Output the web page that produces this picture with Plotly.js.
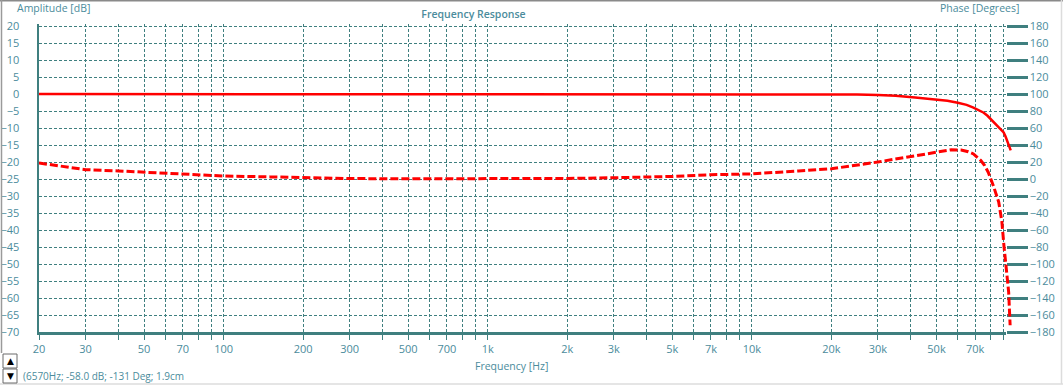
<!DOCTYPE html>
<html>
<head>
<meta charset="utf-8">
<script src="https://cdn.plot.ly/plotly-3.0.1.min.js"></script>
<style>
html,body{margin:0;padding:0;background:#fff;}
#chart{width:1063px;height:386px;}
</style>
</head>
<body>
<div id="chart"></div>
<script>
// ---- data ----
const ampFreq = [20, 100, 1000, 10000, 20000, 25000, 30000, 35000, 41500, 46000, 50600, 55000, 60200, 65000, 69000, 72500, 75500, 78000, 80200, 82000, 84000, 86000, 88000, 89800, 91300, 92700, 94200, 95500];
const ampDb   = [0, 0, 0, 0, -0.05, -0.15, -0.3, -0.5, -1.0, -1.3, -1.6, -2.0, -2.6, -3.2, -4.0, -4.7, -5.5, -6.4, -7.4, -8.2, -9.2, -10.0, -10.7, -11.3, -12.5, -13.9, -15.2, -16.6];

const phaseFreq = [20, 23, 27, 30, 40, 50, 70, 100, 150, 200, 300, 500, 1000, 2000, 3000, 5000, 7000, 10000, 15000, 20000, 30000, 40000, 50000, 57000, 62000, 66000, 69000, 73500, 76000, 78500, 82000, 86000, 88400, 90000, 91800, 93800, 95000];
const phaseDeg  = [18.8, 16, 12.5, 11, 9.5, 8.2, 6, 3.5, 2.5, 1.5, 0.5, 0.3, 0.2, 0.6, 1.5, 3, 5, 6, 9.5, 12, 20, 26, 31.5, 34.5, 34, 32, 29.5, 22, 16, 8, -7.5, -27, -50, -78, -105, -133, -172];

const freqGrid = [20,30,40,50,60,70,80,90,100,200,300,400,500,600,700,800,900,1000,2000,3000,4000,5000,6000,7000,8000,9000,10000,20000,30000,40000,50000,60000,70000,80000,90000];
const freqLabels = ['20','30','','50','','70','','','100','200','300','','500','','700','','','1k','2k','3k','','5k','','7k','','','10k','20k','30k','','50k','','70k','',''];
const ampTicks = [20,15,10,5,0,-5,-10,-15,-20,-25,-30,-35,-40,-45,-50,-55,-60,-65,-70];
const phaseTicks = [180,160,140,120,100,80,60,40,20,0,-20,-40,-60,-80,-100,-120,-140,-160,-180];

// ---- geometry ----
const W = 1063, H = 386;
const L = 39, R = 47, T = 24, B = 54;
const plotW = W - L - R;           // 977
const plotH = H - T - B;           // 308
const pxPerDec = plotW / (Math.log10(100000) - Math.log10(20));
const mainRight = 1005.5;          // right edge of the grid area
const mainDom = (mainRight - L) / plotW;
const xMainMax = Math.log10(20) + (mainRight - L) / pxPerDec;
const pxPerDb = 3.4;
const ampTop = -70 + plotH / pxPerDb;
const phTop = -180 + (ampTop + 70) * 4;

const px = v => (v - L) / plotW;
const py = v => (T + plotH - v) / plotH;

const TEAL = '#3f7f7f';
const LBL = '#4b8c9c';
const FONT = 'Open Sans, Noto Sans, sans-serif';

const traces = [
  {x: [], y: [], xaxis: 'x', yaxis: 'y', showlegend: false, hoverinfo: 'skip'},
  {x: [], y: [], xaxis: 'x', yaxis: 'y2', showlegend: false, hoverinfo: 'skip'},
  {x: ampFreq, y: ampDb, xaxis: 'x2', yaxis: 'y3', mode: 'lines', name: 'Amplitude',
   line: {color: '#ff0000', width: 2.5}, showlegend: false},
  {x: phaseFreq, y: phaseDeg, xaxis: 'x2', yaxis: 'y4', mode: 'lines', name: 'Phase',
   line: {color: '#ff0000', width: 3, dash: '8px,3px'}, showlegend: false}
];

const ann = (text, x, y, xanchor, extra) => Object.assign({
  text, xref: 'paper', yref: 'paper', x: px(x), y: py(y), xanchor, yanchor: 'middle',
  showarrow: false, font: {family: FONT, size: 10.5, color: LBL}
}, extra || {});

const layout = {
  width: W, height: H,
  margin: {l: L, r: R, t: T, b: B, pad: 0},
  paper_bgcolor: '#ffffff',
  plot_bgcolor: 'rgba(0,0,0,0)',
  showlegend: false,
  title: {
    text: 'Frequency Response',
    x: 473.5 / W, xref: 'container', xanchor: 'center',
    y: 1 - 14 / H, yref: 'container', yanchor: 'middle',
    font: {family: FONT, size: 10.5, color: LBL, weight: 600}
  },
  xaxis: {
    type: 'log', domain: [0, mainDom],
    range: [Math.log10(20), xMainMax],
    tickmode: 'array', tickvals: freqGrid, ticktext: freqLabels,
    showgrid: true, gridcolor: TEAL, gridwidth: 1, griddash: '3px,2px',
    showline: true, linecolor: TEAL, linewidth: 2.5,
    ticks: 'outside', ticklen: 5, tickwidth: 1, tickcolor: TEAL,
    tickfont: {family: FONT, size: 11, color: LBL},
    zeroline: false, fixedrange: true
  },
  yaxis: {
    range: [-70, ampTop], domain: [0, 1],
    tickmode: 'array', tickvals: ampTicks,
    showgrid: true, gridcolor: TEAL, gridwidth: 1, griddash: '3px,2px',
    showline: true, linecolor: TEAL, linewidth: 2.5,
    ticks: '', ticklabelstandoff: 15,
    tickfont: {family: FONT, size: 11, color: LBL},
    zeroline: false, fixedrange: true
  },
  yaxis2: {
    range: [-180, phTop], overlaying: 'y', side: 'right', anchor: 'x',
    tickmode: 'array', tickvals: phaseTicks,
    showgrid: false, showline: false, zeroline: false,
    ticks: 'outside', ticklen: 21, tickwidth: 3, tickcolor: TEAL,
    tickfont: {family: FONT, size: 11, color: LBL}, fixedrange: true
  },
  xaxis2: {
    type: 'log', domain: [0, 1], anchor: 'y3',
    range: [Math.log10(20), Math.log10(100000)],
    visible: false, fixedrange: true
  },
  yaxis3: {
    range: [-70, ampTop], domain: [0, 1], anchor: 'x2',
    visible: false, fixedrange: true
  },
  yaxis4: {
    range: [-180, phTop], overlaying: 'y3', anchor: 'x2',
    visible: false, fixedrange: true
  },
  annotations: [
    ann('Amplitude [dB]', 15, 8, 'left'),
    ann('Phase [Degrees]', 938, 8, 'left'),
    ann('Frequency [Hz]', 511, 366, 'center'),
    ann('(6570Hz; -58.0 dB; -131 Deg; 1.9cm', 21, 376, 'left', {font: {family: FONT, size: 10, color: LBL}}),
    ann('▲', 10, 361, 'center', {font: {family: 'DejaVu Sans', size: 9, color: '#000'}}),
    ann('▼', 10, 376, 'center', {font: {family: 'DejaVu Sans', size: 9, color: '#000'}})
  ],
  shapes: [
    {type: 'line', xref: 'paper', yref: 'paper', x0: px(0), x1: px(W), y0: py(0.5), y1: py(0.5), line: {color: '#8a8a8a', width: 2}},
    {type: 'line', xref: 'paper', yref: 'paper', x0: px(1.5), x1: px(1.5), y0: py(0), y1: py(353), line: {color: '#9a9a9a', width: 1.5}},
    {type: 'line', xref: 'paper', yref: 'paper', x0: px(1061.5), x1: px(1061.5), y0: py(0), y1: py(384), line: {color: '#dcdcdc', width: 1.5}},
    {type: 'line', xref: 'paper', yref: 'paper', x0: px(0), x1: px(W), y0: py(384), y1: py(384), line: {color: '#dcdcdc', width: 1.5}},
    {type: 'rect', xref: 'paper', yref: 'paper', x0: px(3), x1: px(17), y0: py(354), y1: py(368), line: {color: '#6a6a6a', width: 1}, fillcolor: '#ffffff'},
    {type: 'rect', xref: 'paper', yref: 'paper', x0: px(3), x1: px(17), y0: py(369), y1: py(383), line: {color: '#6a6a6a', width: 1}, fillcolor: '#ffffff'}
  ]
};

Plotly.newPlot('chart', traces, layout, {staticPlot: true, displayModeBar: false});
</script>
</body>
</html>
